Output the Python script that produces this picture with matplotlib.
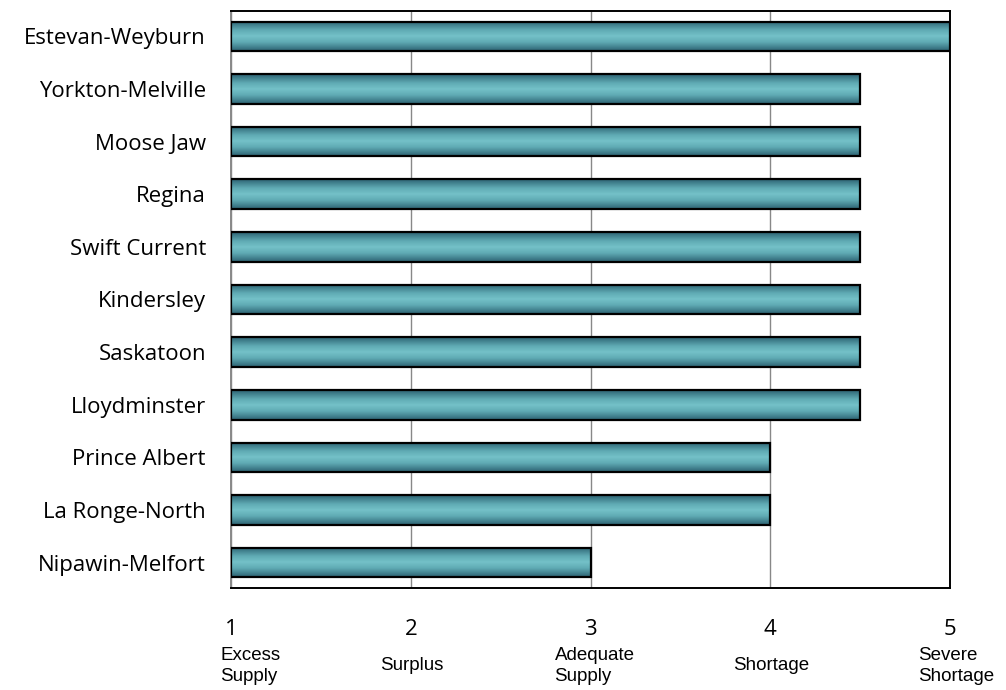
import matplotlib
matplotlib.use("Agg")
import matplotlib.pyplot as plt
import numpy as np
from matplotlib.colors import LinearSegmentedColormap
import matplotlib.transforms as mtransforms

regions = ["Estevan-Weyburn", "Yorkton-Melville", "Moose Jaw", "Regina", "Swift Current",
           "Kindersley", "Saskatoon", "Lloydminster", "Prince Albert", "La Ronge-North",
           "Nipawin-Melfort"]
values = [5.0, 4.5, 4.5, 4.5, 4.5, 4.5, 4.5, 4.5, 4.0, 4.0, 3.0]
tick_values = [1, 2, 3, 4, 5]
tick_desc = ["Excess\nSupply", "Surplus", "Adequate\nSupply", "Shortage", "Severe\nShortage"]

fig = plt.figure(figsize=(10.06, 6.9), dpi=100)
ax = fig.add_axes([231/1006, 1-588/690, (950-231)/1006, (588-11)/690])

cmap = LinearSegmentedColormap.from_list(
    "teal", [(0, "#2c6272"), (0.3, "#60abb4"), (0.5, "#74c1c8"), (0.7, "#60abb4"), (1, "#2c6272")])
grad = np.linspace(0, 1, 256).reshape(-1, 1)

ypos = np.arange(len(regions))
bars = ax.barh(ypos, np.array(values) - 1, left=1, height=0.56,
               color="none", edgecolor="black", linewidth=1.6, zorder=3)
for b in bars:
    x0, y0 = b.get_x(), b.get_y()
    w, h = b.get_width(), b.get_height()
    im = ax.imshow(grad, cmap=cmap, aspect="auto", extent=[x0, x0 + w, y0 + h, y0],
                   zorder=2, interpolation="bilinear")
    im.set_clip_path(b)

ax.set_xlim(1, 5)
ax.set_ylim(len(regions) - 0.52, -0.48)
ax.set_yticks(ypos)
ax.set_yticklabels(regions, fontsize=16, family="Open Sans")
ax.tick_params(axis="y", length=0, pad=18)
ax.set_xticks(tick_values)
ax.set_xticklabels([str(t) for t in tick_values], fontsize=16, family="Open Sans")
ax.tick_params(axis="x", length=0, pad=22)
ax.grid(axis="x", color="#888888", linewidth=1.0, zorder=1)
ax.set_axisbelow(True)
for s in ["top", "right", "bottom"]:
    ax.spines[s].set_color("black")
    ax.spines[s].set_linewidth(1.4)
ax.spines["left"].set_color("#888888")
ax.spines["left"].set_linewidth(1.4)

desc_offsets_px = [-11, -31, -36, -37, -32]
trans = mtransforms.blended_transform_factory(ax.transData, fig.transFigure)
for t, d, off in zip(tick_values, tick_desc, desc_offsets_px):
    tr = trans + mtransforms.ScaledTranslation(off / 100, 0, fig.dpi_scale_trans)
    ax.text(t, 1 - 666/690, d, transform=tr, ha="left", va="center",
            fontsize=13.5, family="Liberation Sans", linespacing=1.35)

fig.savefig("out.png", dpi=100)
